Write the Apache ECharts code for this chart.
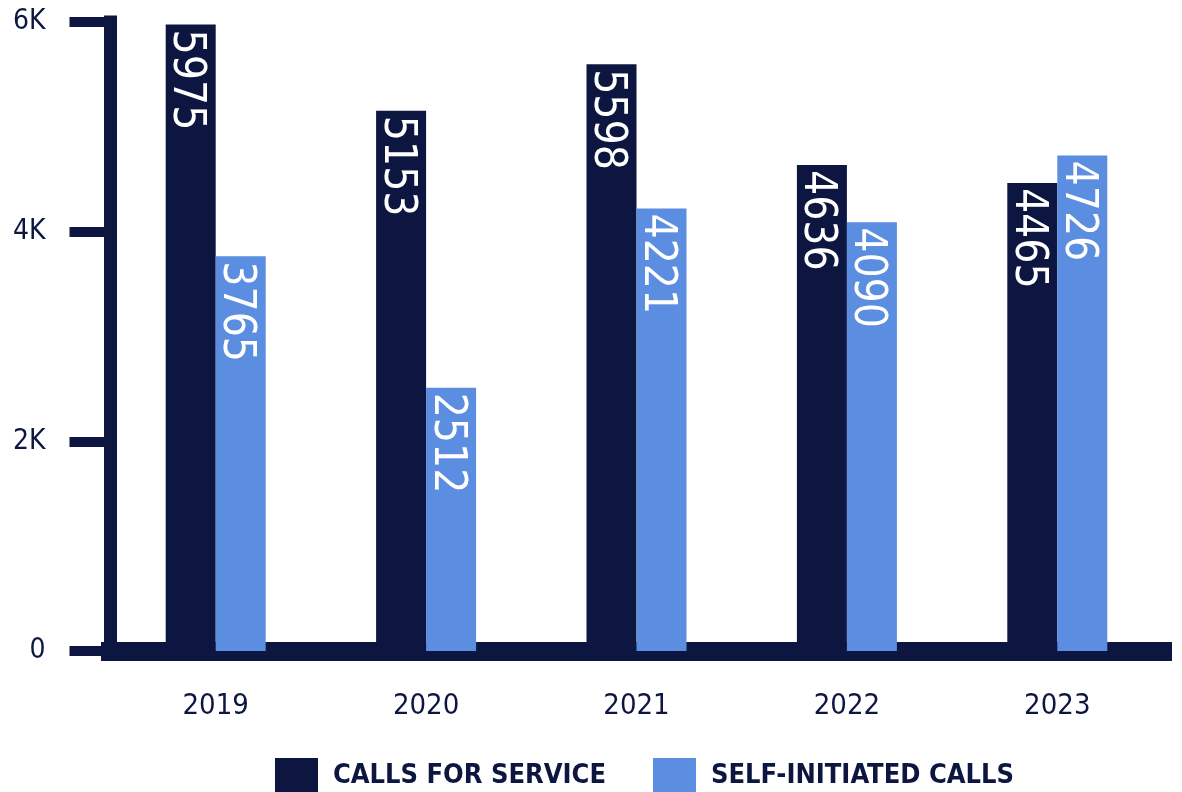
<!DOCTYPE html>
<html>
<head>
<meta charset="utf-8">
<script src="https://cdn.jsdelivr.net/npm/echarts@6/dist/echarts.min.js"></script>
<style>html,body{margin:0;padding:0;background:#fff;}#c{width:1182px;height:792px;}</style>
</head>
<body>
<div id="c"></div>
<script>
const years = ['2019', '2020', '2021', '2022', '2023'];
const callsForService = [5975, 5153, 5598, 4636, 4465];
const selfInitiated = [3765, 2512, 4221, 4090, 4726];
const seriesNames = ['CALLS FOR SERVICE', 'SELF-INITIATED CALLS'];

const NAVY = '#0c1641';
const BLUE = '#5b8de0';
const NARROW = "'DejaVu Sans Condensed', 'Liberation Sans Narrow', sans-serif";

const chart = echarts.init(document.getElementById('c'));
const barLabel = {
  show: true,
  position: 'insideTop',
  rotate: -90,
  align: 'left',
  verticalAlign: 'middle',
  distance: 5,
  offset: [0, 5],
  color: '#ffffff',
  fontSize: 44,
  fontFamily: NARROW
};
chart.setOption({
  animation: false,
  backgroundColor: '#ffffff',
  grid: { left: 110.5, right: 19.5, top: 22, bottom: 141, containLabel: false },
  legend: {
    left: 275, top: 758, padding: 0,
    itemWidth: 43, itemHeight: 36, itemGap: 47,
    icon: 'rect',
    textStyle: { color: NAVY, fontSize: 27, fontWeight: 'bold', fontFamily: NARROW, padding: [0, 0, 0, 10] },
    data: seriesNames
  },
  xAxis: {
    type: 'category',
    data: years,
    axisLine: { lineStyle: { color: NAVY, width: 19, cap: 'square' } },
    axisTick: { show: false },
    axisLabel: { color: NAVY, fontSize: 29, fontFamily: NARROW, margin: 41 }
  },
  yAxis: {
    type: 'value',
    min: 0, max: 6000, interval: 2000,
    splitLine: { show: false },
    axisLine: { show: true, lineStyle: { color: NAVY, width: 13, cap: 'square' } },
    axisTick: { show: true, length: 41, lineStyle: { color: NAVY, width: 10 } },
    axisLabel: {
      color: NAVY, fontSize: 28, fontFamily: NARROW, margin: 65,
      formatter: v => v === 0 ? '0' : (v / 1000) + 'K'
    }
  },
  series: [
    { name: seriesNames[0], type: 'bar', data: callsForService, barWidth: 50, barGap: '0%', itemStyle: { color: NAVY }, label: barLabel },
    { name: seriesNames[1], type: 'bar', data: selfInitiated, barWidth: 50, barGap: '0%', itemStyle: { color: BLUE }, label: barLabel }
  ]
});
</script>
</body>
</html>
